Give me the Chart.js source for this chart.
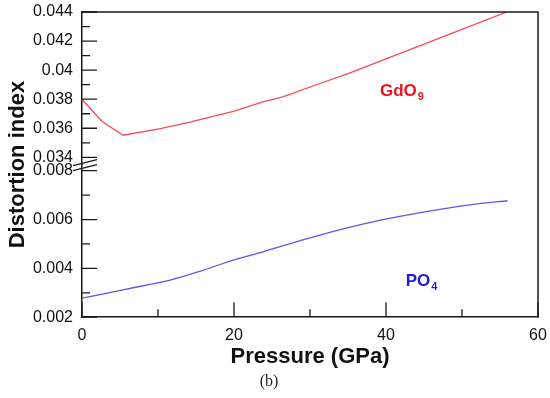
<!DOCTYPE html>
<html lang="en">
<head>
    <meta charset="UTF-8">
    <title>Distortion index vs pressure</title>
    <style>
        body { margin: 0; background: #fff; }
        #chart-container { width: 550px; height: 398px; }
    </style>
    <script src="https://cdn.jsdelivr.net/npm/chart.js"></script>
</head>
<body>
    <div id="chart-container">
        <canvas id="lineChart"></canvas>
    </div>

    <script>
        // GdO9 polyhedron (upper part of the broken axis)
        const gdoPressure = [0, 2.6, 5.4, 10.3, 13.8, 19.9, 23.8, 26.4, 31.3, 35, 40, 45, 50, 55.9];
        const gdoIndex = [0.0380, 0.03648, 0.03552, 0.03598, 0.03637, 0.03717, 0.03781, 0.03816, 0.03908, 0.03976, 0.04077, 0.04179, 0.0428, 0.0440];

        // PO4 tetrahedron (lower part)
        const poPressure = [0, 5.7, 11.6, 15.9, 19.9, 23.7, 30, 34.9, 40.1, 46.7, 52, 56];
        const poIndex = [0.00278, 0.00314, 0.00352, 0.00392, 0.00434, 0.00467, 0.00525, 0.00566, 0.00603, 0.0064, 0.00664, 0.00677];

        // tick labels
        const xTicks = [0, 20, 40, 60];
        const xMinorTicks = [10, 30, 50];
        const yTopTicks = [0.034, 0.036, 0.038, 0.04, 0.042, 0.044];
        const yTopMinor = [0.035, 0.037, 0.039, 0.041, 0.043];
        const yLowTicks = [0.002, 0.004, 0.006, 0.008];
        const yLowMinor = [0.003, 0.005, 0.007];

        const ink = '#1a1a1a';
        Chart.defaults.font.family = 'Arial, "Liberation Sans", sans-serif';
        Chart.defaults.color = '#111';

        const toPoints = (xs, ys) => xs.map((x, i) => ({ x: x, y: ys[i] }));
        const fmt = v => String(+Number(v).toFixed(3));

        // frame, inner ticks, axis break, y title and series labels
        const decorations = {
            id: 'decorations',
            afterDraw(chart) {
                const { ctx, chartArea: a, scales } = chart;
                ctx.save();
                ctx.strokeStyle = ink;
                ctx.lineWidth = 1.5;
                ctx.beginPath();
                ctx.moveTo(a.left, a.top);
                ctx.lineTo(a.right, a.top);
                ctx.lineTo(a.right, a.bottom);
                ctx.stroke();

                ctx.lineWidth = 1.3;
                ctx.beginPath();
                const yTick = (scale, vals, len) => vals.forEach(v => {
                    const y = scale.getPixelForValue(v);
                    ctx.moveTo(a.left, y);
                    ctx.lineTo(a.left + len, y);
                });
                const xTick = (vals, len) => vals.forEach(v => {
                    const x = scales.x.getPixelForValue(v);
                    ctx.moveTo(x, a.bottom);
                    ctx.lineTo(x, a.bottom - len);
                });
                yTick(scales.yTop, yTopTicks, 15);
                yTick(scales.yTop, yTopMinor, 8);
                yTick(scales.y, yLowTicks, 15);
                yTick(scales.y, yLowMinor, 8);
                xTick(xTicks, 15);
                xTick(xMinorTicks, 8);
                ctx.stroke();

                // break marks on the left axis
                const mid = scales.yTop.bottom;
                ctx.lineWidth = 1.2;
                ctx.beginPath();
                ctx.moveTo(a.left - 9, mid + 1);
                ctx.lineTo(a.left + 15, mid - 5);
                ctx.moveTo(a.left - 9, mid + 6);
                ctx.lineTo(a.left + 15, mid);
                ctx.stroke();

                // y axis title
                ctx.save();
                ctx.translate(24, (a.top + a.bottom) / 2);
                ctx.rotate(-Math.PI / 2);
                ctx.font = 'bold 22px Arial, "Liberation Sans", sans-serif';
                ctx.fillStyle = '#111';
                ctx.textAlign = 'center';
                ctx.textBaseline = 'alphabetic';
                ctx.fillText('Distortion index', 0, 0);
                ctx.restore();

                // series labels with subscripts
                const label = (text, sub, x, y, color) => {
                    ctx.fillStyle = color;
                    ctx.textAlign = 'left';
                    ctx.textBaseline = 'alphabetic';
                    ctx.font = 'bold 17px Arial, "Liberation Sans", sans-serif';
                    ctx.fillText(text, x, y);
                    const w = ctx.measureText(text).width;
                    ctx.font = 'bold 11px Arial, "Liberation Sans", sans-serif';
                    ctx.fillText(sub, x + w + 1, y + 4);
                };
                label('GdO', '9', scales.x.getPixelForValue(39.2), scales.yTop.getPixelForValue(0.0382), 'rgb(232,20,32)');
                label('PO', '4', scales.x.getPixelForValue(42.6), scales.y.getPixelForValue(0.00327), 'rgb(30,30,210)');
                ctx.restore();
            }
        };

        const yScale = (min, max, values) => ({
            type: 'linear',
            position: 'left',
            stack: 'distortion',
            stackWeight: 1,
            min: min,
            max: max,
            afterBuildTicks: s => { s.ticks = values.map(v => ({ value: v })); },
            afterFit: s => {
                s.width = 82;
                s.paddingTop = 0;
                s.paddingBottom = 0;
            },
            grid: { display: false, drawTicks: false },
            border: { display: true, color: ink, width: 1.5 },
            ticks: { padding: 9, autoSkip: false, font: { size: 16 }, callback: fmt }
        });

        new Chart(document.getElementById('lineChart'), {
            type: 'line',
            data: {
                datasets: [
                    {
                        label: 'GdO9',
                        data: toPoints(gdoPressure, gdoIndex),
                        yAxisID: 'yTop',
                        borderColor: 'rgb(245,75,90)',
                        borderWidth: 1.3,
                        pointRadius: 0,
                        tension: 0
                    },
                    {
                        label: 'PO4',
                        data: toPoints(poPressure, poIndex),
                        yAxisID: 'y',
                        borderColor: 'rgb(95,85,235)',
                        borderWidth: 1.3,
                        pointRadius: 0,
                        tension: 0.3
                    }
                ]
            },
            options: {
                responsive: true,
                maintainAspectRatio: false,
                animation: false,
                layout: { padding: { top: 12, right: 12, left: 0, bottom: 0 } },
                plugins: {
                    legend: { display: false },
                    tooltip: { enabled: false },
                    title: {
                        display: true,
                        position: 'bottom',
                        text: '(b)',
                        color: '#222',
                        font: { family: '"Liberation Serif", "Times New Roman", serif', size: 16, weight: 'normal' },
                        padding: { top: 2, bottom: 7 }
                    }
                },
                scales: {
                    x: {
                        type: 'linear',
                        min: 0,
                        max: 60,
                        afterBuildTicks: s => { s.ticks = xTicks.map(v => ({ value: v })); },
                        afterFit: s => {
                            s.height -= 12;
                            s.paddingLeft = 0;
                            s.paddingRight = 0;
                        },
                        grid: { display: false, drawTicks: false },
                        border: { display: true, color: ink, width: 1.5 },
                        ticks: { padding: 9, autoSkip: false, maxRotation: 0, font: { size: 16 } },
                        title: {
                            display: true,
                            text: 'Pressure (GPa)',
                            font: { size: 22, weight: 'bold' },
                            padding: { top: 1, bottom: 0 }
                        }
                    },
                    y: yScale(0.002, 0.00825, yLowTicks),
                    yTop: yScale(0.0335, 0.044, yTopTicks)
                }
            },
            plugins: [decorations]
        });
    </script>
</body>
</html>
